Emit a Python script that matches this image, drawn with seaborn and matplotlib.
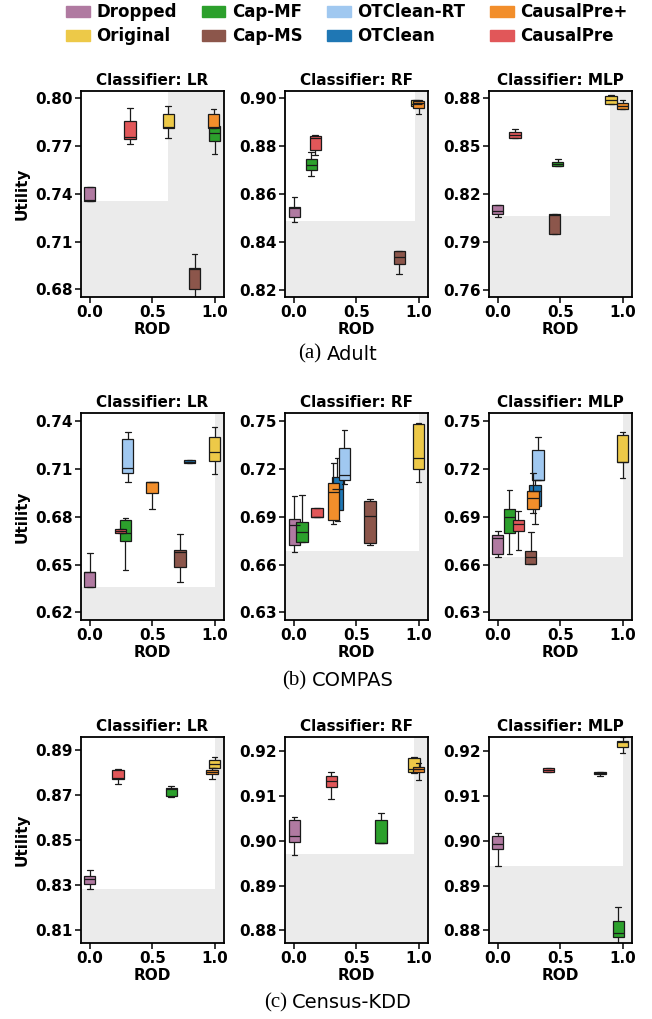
import numpy as np
import pandas as pd
import seaborn as sns
import matplotlib.pyplot as plt
from matplotlib.patches import Patch

# Methods and colours (legend order)
methods = ["Dropped", "Original", "Cap-MF", "Cap-MS", "OTClean-RT", "OTClean", "CausalPre+", "CausalPre"]
colors = ["#b07aa1", "#edc948", "#2ca02c", "#8c564b", "#a0c8f0", "#1f77b4", "#f28e2b", "#e15759"]
draw_order = ["Dropped", "Original", "Cap-MF", "Cap-MS", "OTClean", "OTClean-RT", "CausalPre+", "CausalPre"]

# box stats per method: [whisker low, q1, median, q3, whisker high]
# ---- Adult ----
adult_lr_methods = ["Dropped", "CausalPre", "Original", "CausalPre+", "Cap-MF", "Cap-MS"]
adult_lr_rod = [0.0, 0.323, 0.629, 0.992, 1.0, 0.84]
adult_lr_box = [[0.7353, 0.7353, 0.7360, 0.7443, 0.7445],
                [0.7713, 0.7742, 0.7755, 0.7858, 0.7937],
                [0.7751, 0.7814, 0.7822, 0.7900, 0.7950],
                [0.7814, 0.7814, 0.7822, 0.7900, 0.7935],
                [0.7650, 0.7734, 0.7780, 0.7828, 0.7828],
                [0.6700, 0.6800, 0.6930, 0.6932, 0.7020]]
adult_lr_front = (0.627, 0.7357)

adult_rf_methods = ["Dropped", "Cap-MF", "CausalPre", "Original", "CausalPre+", "Cap-MS"]
adult_rf_rod = [0.005, 0.14, 0.172, 0.98, 1.0, 0.844]
adult_rf_box = [[0.8484, 0.8502, 0.8542, 0.8546, 0.8588],
                [0.8672, 0.8701, 0.8719, 0.8743, 0.8772],
                [0.8760, 0.8781, 0.8834, 0.8839, 0.8845],
                [0.8960, 0.8964, 0.8975, 0.8989, 0.8990],
                [0.8934, 0.8958, 0.8978, 0.8985, 0.8988],
                [0.8267, 0.8308, 0.8336, 0.8363, 0.8363]]
adult_rf_front = (0.968, 0.8487)

adult_mlp_methods = ["Dropped", "CausalPre", "Cap-MF", "Cap-MS", "Original", "CausalPre+"]
adult_mlp_rod = [0.0, 0.139, 0.48, 0.453, 0.907, 1.0]
adult_mlp_box = [[0.8055, 0.8076, 0.8091, 0.8128, 0.8128],
                 [0.8550, 0.8550, 0.8566, 0.8585, 0.8604],
                 [0.8374, 0.8374, 0.8387, 0.8397, 0.8418],
                 [0.7951, 0.7951, 0.8066, 0.8070, 0.8072],
                 [0.8758, 0.8758, 0.8785, 0.8810, 0.8820],
                 [0.8727, 0.8727, 0.8748, 0.8767, 0.8785]]
adult_mlp_front = (0.899, 0.8059)

# ---- COMPAS ----
compas_lr_methods = ["Dropped", "CausalPre", "Cap-MF", "OTClean-RT", "CausalPre+", "OTClean", "Cap-MS", "Original"]
compas_lr_rod = [0.0, 0.245, 0.285, 0.304, 0.499, 0.8, 0.723, 1.0]
compas_lr_box = [[0.6362, 0.6362, 0.6454, 0.6456, 0.6571],
                 [0.6701, 0.6701, 0.6714, 0.6725, 0.6725],
                 [0.6467, 0.6645, 0.6699, 0.6781, 0.6790],
                 [0.7016, 0.7075, 0.7106, 0.7291, 0.7333],
                 [0.6848, 0.6947, 0.7018, 0.7020, 0.7020],
                 [0.7136, 0.7136, 0.7146, 0.7155, 0.7155],
                 [0.6389, 0.6487, 0.6578, 0.6590, 0.6695],
                 [0.7071, 0.7152, 0.7205, 0.7301, 0.7362]]
compas_lr_front = (1.0, 0.6362)

compas_rf_methods = ["Dropped", "Cap-MF", "CausalPre", "CausalPre+", "OTClean", "OTClean-RT", "Cap-MS", "Original"]
compas_rf_rod = [0.005, 0.066, 0.186, 0.318, 0.35, 0.406, 0.61, 1.0]
compas_rf_box = [[0.6682, 0.6724, 0.6848, 0.6887, 0.7028],
                 [0.6741, 0.6741, 0.6804, 0.6866, 0.7036],
                 [0.6896, 0.6896, 0.6897, 0.6957, 0.6957],
                 [0.6856, 0.6879, 0.7053, 0.7110, 0.7238],
                 [0.6875, 0.6944, 0.7076, 0.7148, 0.7267],
                 [0.7106, 0.7133, 0.7164, 0.7330, 0.7443],
                 [0.6720, 0.6738, 0.6902, 0.6999, 0.7011],
                 [0.7116, 0.7200, 0.7267, 0.7483, 0.7490]]
compas_rf_front = (1.0, 0.6686)

compas_mlp_methods = ["Dropped", "Cap-MF", "CausalPre", "Cap-MS", "CausalPre+", "OTClean", "OTClean-RT", "Original"]
compas_mlp_rod = [0.0, 0.093, 0.165, 0.264, 0.283, 0.299, 0.323, 1.0]
compas_mlp_box = [[0.6648, 0.6667, 0.6766, 0.6785, 0.6814],
                  [0.6669, 0.6801, 0.6896, 0.6948, 0.7070],
                  [0.6692, 0.6808, 0.6854, 0.6883, 0.6938],
                  [0.6602, 0.6602, 0.6650, 0.6688, 0.6804],
                  [0.6923, 0.6952, 0.7017, 0.7060, 0.7175],
                  [0.6854, 0.6965, 0.7060, 0.7099, 0.7175],
                  [0.7129, 0.7129, 0.7133, 0.7320, 0.7399],
                  [0.7143, 0.7242, 0.7243, 0.7416, 0.7431]]
compas_mlp_front = (1.0, 0.665)

# ---- Census-KDD ----
census_lr_methods = ["Dropped", "CausalPre", "Cap-MF", "Original", "CausalPre+"]
census_lr_rod = [0.0, 0.227, 0.653, 1.0, 0.979]
census_lr_box = [[0.8282, 0.8304, 0.8330, 0.8343, 0.8368],
                 [0.8749, 0.8774, 0.8777, 0.8814, 0.8819],
                 [0.8691, 0.8697, 0.8727, 0.8734, 0.8743],
                 [0.8823, 0.8823, 0.8839, 0.8859, 0.8872],
                 [0.8771, 0.8795, 0.8804, 0.8811, 0.8823]]
census_lr_front = (1.0, 0.8285)

census_rf_methods = ["Dropped", "CausalPre", "Cap-MF", "Original", "CausalPre+"]
census_rf_rod = [0.005, 0.3, 0.698, 0.963, 1.0]
census_rf_box = [[0.8968, 0.8998, 0.9011, 0.9047, 0.9052],
                 [0.9092, 0.9120, 0.9133, 0.9145, 0.9152],
                 [0.8994, 0.8994, 0.8995, 0.9047, 0.9062],
                 [0.9150, 0.9153, 0.9160, 0.9184, 0.9186],
                 [0.9135, 0.9152, 0.9160, 0.9164, 0.9172]]
census_rf_front = (0.963, 0.897)

census_mlp_methods = ["Dropped", "CausalPre", "CausalPre+", "Original", "Cap-MF"]
census_mlp_rod = [0.0, 0.405, 0.819, 1.0, 0.965]
census_mlp_box = [[0.8943, 0.8982, 0.8993, 0.9010, 0.9016],
                  [0.9152, 0.9152, 0.9158, 0.9163, 0.9163],
                  [0.9145, 0.9149, 0.9151, 0.9154, 0.9154],
                  [0.9196, 0.9208, 0.9219, 0.9223, 0.9231],
                  [0.8770, 0.8785, 0.8795, 0.8822, 0.8852]]
census_mlp_front = (1.0, 0.8944)

# y axis ticks per panel
adult_yticks = [[0.68, 0.71, 0.74, 0.77, 0.80], [0.82, 0.84, 0.86, 0.88, 0.90], [0.76, 0.79, 0.82, 0.85, 0.88]]
compas_yticks = [[0.62, 0.65, 0.68, 0.71, 0.74], [0.63, 0.66, 0.69, 0.72, 0.75], [0.63, 0.66, 0.69, 0.72, 0.75]]
census_yticks = [[0.81, 0.83, 0.85, 0.87, 0.89], [0.88, 0.89, 0.90, 0.91, 0.92], [0.88, 0.89, 0.90, 0.91, 0.92]]
adult_ylim = [(0.6752, 0.8046), (0.817, 0.9028), (0.7554, 0.8842)]
compas_ylim = [(0.6152, 0.7452), (0.6252, 0.7552), (0.6252, 0.7552)]
census_ylim = [(0.8044, 0.8959), (0.8772, 0.9231), (0.8772, 0.9231)]

classifiers = ["LR", "RF", "MLP"]

sns.set_style("ticks")
plt.rcParams["font.family"] = ["DejaVu Sans"]
plt.rcParams["font.weight"] = "bold"
plt.rcParams["axes.labelweight"] = "bold"
plt.rcParams["axes.titleweight"] = "bold"
for k in ["text.color", "axes.labelcolor", "xtick.color", "ytick.color", "axes.edgecolor"]:
    plt.rcParams[k] = "black"

palette = dict(zip(methods, colors))

rows = [
    ("(a)", "Adult", 91, 297, 354,
     [(adult_lr_methods, adult_lr_rod, adult_lr_box, adult_lr_front),
      (adult_rf_methods, adult_rf_rod, adult_rf_box, adult_rf_front),
      (adult_mlp_methods, adult_mlp_rod, adult_mlp_box, adult_mlp_front)],
     adult_yticks, adult_ylim),
    ("(b)", "COMPAS", 413, 620, 681,
     [(compas_lr_methods, compas_lr_rod, compas_lr_box, compas_lr_front),
      (compas_rf_methods, compas_rf_rod, compas_rf_box, compas_rf_front),
      (compas_mlp_methods, compas_mlp_rod, compas_mlp_box, compas_mlp_front)],
     compas_yticks, compas_ylim),
    ("(c)", "Census-KDD", 737, 943, 1003,
     [(census_lr_methods, census_lr_rod, census_lr_box, census_lr_front),
      (census_rf_methods, census_rf_rod, census_rf_box, census_rf_front),
      (census_mlp_methods, census_mlp_rod, census_mlp_box, census_mlp_front)],
     census_yticks, census_ylim),
]

W, H = 652, 1019
fig = plt.figure(figsize=(W / 100, H / 100), dpi=100)
lefts = [81, 285, 489]
xlim = (-0.07, 1.075)

for tag, name, top, bottom, cap_y, panels, yticks, ylims in rows:
    for j, (meths, rods, boxes, front) in enumerate(panels):
        ax = fig.add_axes([lefts[j] / W, 1 - bottom / H, 143 / W, (bottom - top) / H])
        ax.set_facecolor("#ebebeb")
        # white (non-dominated) region
        ax.fill_between([xlim[0], front[0]], front[1], ylims[j][1], color="white", lw=0, zorder=0.5)

        df = pd.DataFrame({"method": meths, "rod": rods, "stats": boxes})
        df["order"] = df["method"].map(draw_order.index)
        for _, r in df.sort_values("order").iterrows():
            sns.boxplot(x=[r["rod"]] * 5, y=r["stats"], native_scale=True, orient="x",
                        width=0.09, color=palette[r["method"]], saturation=1,
                        whis=(0, 100), linecolor="#1a1a1a", linewidth=0.9,
                        fliersize=0, ax=ax)

        ax.set_xlim(*xlim)
        ax.set_ylim(*ylims[j])
        ax.set_xticks([0.0, 0.5, 1.0])
        ax.set_xticklabels(["0.0", "0.5", "1.0"])
        ax.set_yticks(yticks[j])
        ax.set_yticklabels([f"{v:.2f}" for v in yticks[j]])
        ax.tick_params(labelsize=11, width=1.1, length=4, pad=2, colors="black")
        for s in ax.spines.values():
            s.set_linewidth(1.3)
            s.set_color("black")
        ax.set_title(f"Classifier: {classifiers[j]}", fontsize=11, pad=4)
        ax.set_xlabel("ROD", fontsize=11, labelpad=1)
        ax.set_ylabel("Utility" if j == 0 else "", fontsize=11)

    # sub-caption: serif tag + sans name, centred
    t1 = fig.text(0, 1 - cap_y / H, tag, family="Liberation Serif", fontsize=15,
                  weight="normal", va="center", ha="left")
    t2 = fig.text(0, 1 - cap_y / H, name, family="DejaVu Sans", fontsize=14,
                  weight="normal", va="center", ha="left")
    rend = fig.canvas.get_renderer()
    w1 = t1.get_window_extent(rend).width
    w2 = t2.get_window_extent(rend).width
    gap = 5
    start = 338 - (w1 + gap + w2) / 2
    t1.set_x(start / W)
    t2.set_x((start + w1 + gap) / W)

handles = [Patch(facecolor=c, edgecolor=c) for c in colors]
fig.legend(handles, methods, ncol=4, loc="center", bbox_to_anchor=(347 / W, 1 - 24 / H),
           frameon=False, prop={"size": 12, "weight": "bold"}, handlelength=1.4,
           handleheight=0.65, handletextpad=0.4, columnspacing=1.5, labelspacing=0.35)

fig.savefig("out.png", dpi=100)
